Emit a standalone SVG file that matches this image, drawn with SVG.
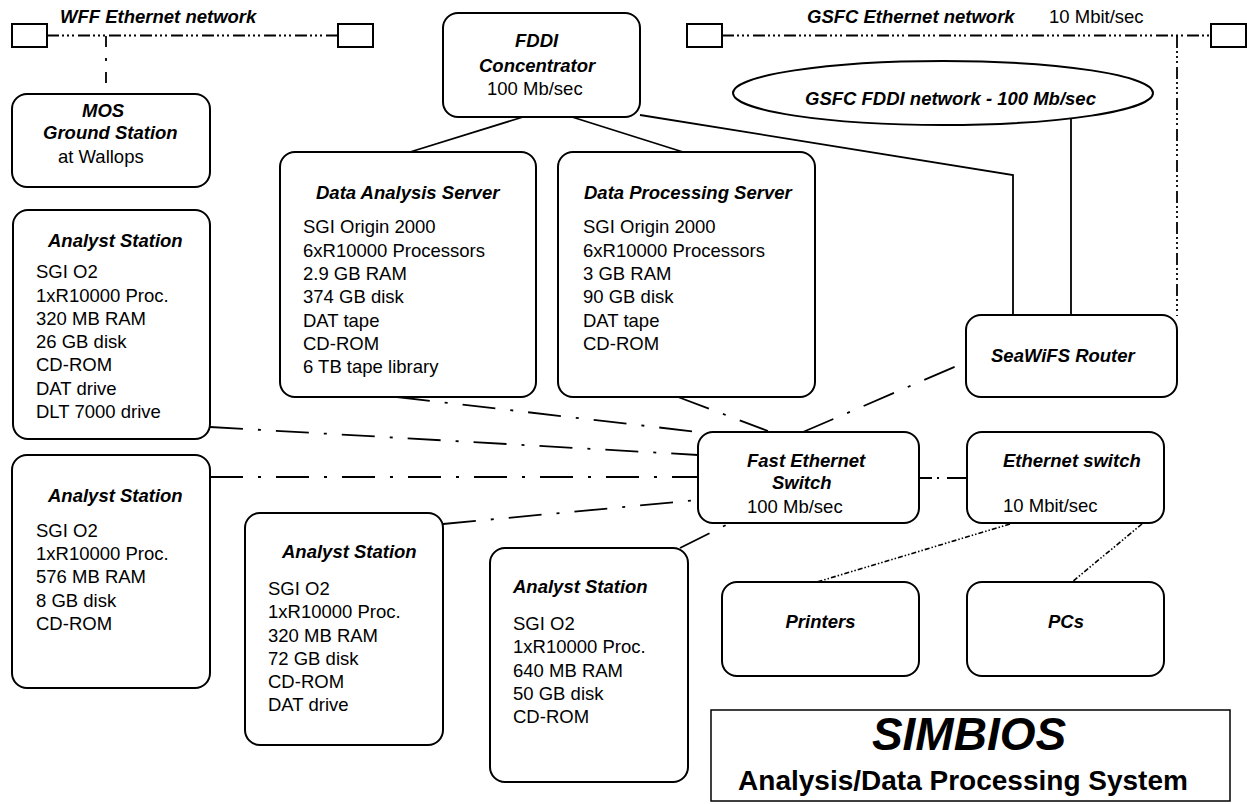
<svg xmlns="http://www.w3.org/2000/svg" width="1247" height="804" viewBox="0 0 1247 804">
<style>
.box{fill:#fff;stroke:#000;stroke-width:2}
.ln{fill:none;stroke:#000;stroke-width:1.8}
.dd{fill:none;stroke:#000;stroke-width:1.8;stroke-dasharray:33 15 3 15}
.ddd{fill:none;stroke:#000;stroke-width:1.8;stroke-dasharray:12 3 2 3 2 3 2 4}
.dv{fill:none;stroke:#000;stroke-width:1.8;stroke-dasharray:11 11 3 11}
.dot{fill:none;stroke:#000;stroke-width:1.6;stroke-dasharray:5 2 1.5 2 1.5 2}
text{font-family:"Liberation Sans",Arial,sans-serif;font-size:18.5px;fill:#000}
.t{font-weight:bold;font-style:italic}
</style>
<rect width="1247" height="804" fill="#fff"/>
<g id="connectors">
<line class="ddd" x1="47" y1="35.5" x2="338" y2="35.5"/>
<line class="ddd" x1="722" y1="35.5" x2="1211" y2="35.5"/>
<line class="dv" x1="106" y1="36" x2="106" y2="94"/>
<line class="ddd" x1="1177" y1="36" x2="1177" y2="316"/>
<line class="ln" x1="523" y1="117" x2="410" y2="152"/>
<line class="ln" x1="572" y1="117" x2="683" y2="152"/>
<polyline class="ln" points="640,115 1013,175 1013,315"/>
<line class="ln" x1="1071" y1="118" x2="1071" y2="315"/>
<line class="dd" x1="397" y1="397" x2="698" y2="432"/>
<line class="dd" x1="678" y1="397" x2="768" y2="431"/>
<line class="dd" x1="210" y1="427" x2="698" y2="455"/>
<line class="dd" x1="210" y1="477" x2="698" y2="477"/>
<line class="dd" x1="443" y1="524" x2="698" y2="500"/>
<line class="dd" x1="680" y1="548" x2="732" y2="522"/>
<line class="dd" x1="803" y1="432" x2="966" y2="362"/>
<line class="ln" x1="919" y1="478" x2="967" y2="478" style="stroke-dasharray:13 5 2 8 40"/>
<line class="dot" x1="1010" y1="524" x2="817" y2="582"/>
<line class="dot" x1="1142" y1="524" x2="1072" y2="582"/>
</g>
<g id="wff-net">
<rect class="box" x="12" y="24" width="35" height="23"/>
<rect class="box" x="338" y="24" width="35" height="23"/>
<text class="t" x="60" y="23">WFF Ethernet network</text>
</g>
<g id="gsfc-net">
<rect class="box" x="687" y="24" width="35" height="23"/>
<rect class="box" x="1211" y="24" width="35" height="23"/>
<text class="t" x="807" y="23">GSFC Ethernet network</text>
<text x="1049" y="23">10 Mbit/sec</text>
</g>
<g id="gsfc-fddi">
<ellipse class="box" cx="943" cy="93" rx="210" ry="32"/>
<text class="t" x="805" y="105">GSFC FDDI network - 100 Mb/sec</text>
</g>
<g id="mos">
<rect class="box" x="12" y="94" width="198" height="93" rx="15"/>
<text class="t" x="82" y="117">MOS</text>
<text class="t" x="43" y="139">Ground Station</text>
<text x="58" y="163">at Wallops</text>
</g>
<g id="fddi">
<rect class="box" x="443" y="13" width="197" height="104" rx="15"/>
<text class="t" x="515" y="47">FDDI</text>
<text class="t" x="479" y="72">Concentrator</text>
<text x="487" y="95">100 Mb/sec</text>
</g>
<g id="das">
<rect class="box" x="280" y="152" width="256" height="245" rx="15"/>
<text class="t" x="316" y="199">Data Analysis Server</text>
<text x="303" y="233">SGI Origin 2000</text>
<text x="303" y="257">6xR10000 Processors</text>
<text x="303" y="280">2.9 GB RAM</text>
<text x="303" y="303">374 GB disk</text>
<text x="303" y="327">DAT tape</text>
<text x="303" y="350">CD-ROM</text>
<text x="303" y="373">6 TB tape library</text>
</g>
<g id="dps">
<rect class="box" x="558" y="152" width="257" height="245" rx="15"/>
<text class="t" x="584" y="199">Data Processing Server</text>
<text x="583" y="233">SGI Origin 2000</text>
<text x="583" y="257">6xR10000 Processors</text>
<text x="583" y="280">3 GB RAM</text>
<text x="583" y="303">90 GB disk</text>
<text x="583" y="327">DAT tape</text>
<text x="583" y="350">CD-ROM</text>
</g>
<g id="router">
<rect class="box" x="966" y="315" width="211" height="82" rx="15"/>
<text class="t" x="991" y="362">SeaWiFS Router</text>
</g>
<g id="as1">
<rect class="box" x="13" y="210" width="197" height="229" rx="15"/>
<text class="t" x="48" y="247">Analyst Station</text>
<text x="36" y="278">SGI O2</text>
<text x="36" y="302">1xR10000 Proc.</text>
<text x="36" y="325">320 MB RAM</text>
<text x="36" y="348">26 GB disk</text>
<text x="36" y="371">CD-ROM</text>
<text x="36" y="395">DAT drive</text>
<text x="36" y="418">DLT 7000 drive</text>
</g>
<g id="as2">
<rect class="box" x="12" y="455" width="198" height="233" rx="15"/>
<text class="t" x="48" y="502">Analyst Station</text>
<text x="36" y="537">SGI O2</text>
<text x="36" y="560">1xR10000 Proc.</text>
<text x="36" y="583">576 MB RAM</text>
<text x="36" y="607">8 GB disk</text>
<text x="36" y="630">CD-ROM</text>
</g>
<g id="as3">
<rect class="box" x="245" y="513" width="198" height="232" rx="15"/>
<text class="t" x="282" y="558">Analyst Station</text>
<text x="268" y="595">SGI O2</text>
<text x="268" y="618">1xR10000 Proc.</text>
<text x="268" y="642">320 MB RAM</text>
<text x="268" y="665">72 GB disk</text>
<text x="268" y="688">CD-ROM</text>
<text x="268" y="711">DAT drive</text>
</g>
<g id="as4">
<rect class="box" x="490" y="548" width="198" height="234" rx="15"/>
<text class="t" x="513" y="593">Analyst Station</text>
<text x="513" y="630">SGI O2</text>
<text x="513" y="653">1xR10000 Proc.</text>
<text x="513" y="677">640 MB RAM</text>
<text x="513" y="700">50 GB disk</text>
<text x="513" y="723">CD-ROM</text>
</g>
<g id="fes">
<rect class="box" x="698" y="432" width="221" height="91" rx="15"/>
<text class="t" x="747" y="467">Fast Ethernet</text>
<text class="t" x="772" y="489">Switch</text>
<text x="747" y="513">100 Mb/sec</text>
</g>
<g id="es">
<rect class="box" x="967" y="432" width="197" height="91" rx="15"/>
<text class="t" x="1003" y="467">Ethernet switch</text>
<text x="1003" y="512">10 Mbit/sec</text>
</g>
<g id="printers">
<rect class="box" x="722" y="582" width="197" height="94" rx="15"/>
<text class="t" x="820.5" y="628" text-anchor="middle">Printers</text>
</g>
<g id="pcs">
<rect class="box" x="967" y="582" width="197" height="94" rx="15"/>
<text class="t" x="1066" y="628" text-anchor="middle">PCs</text>
</g>
<g id="title">
<rect x="711" y="710" width="519" height="91" fill="#fff" stroke="#000" stroke-width="1.5"/>
<text class="t" x="969" y="750" text-anchor="middle" style="font-size:46px">SIMBIOS</text>
<text x="963" y="790" text-anchor="middle" style="font-size:28px;font-weight:bold">Analysis/Data Processing System</text>
</g>
</svg>
